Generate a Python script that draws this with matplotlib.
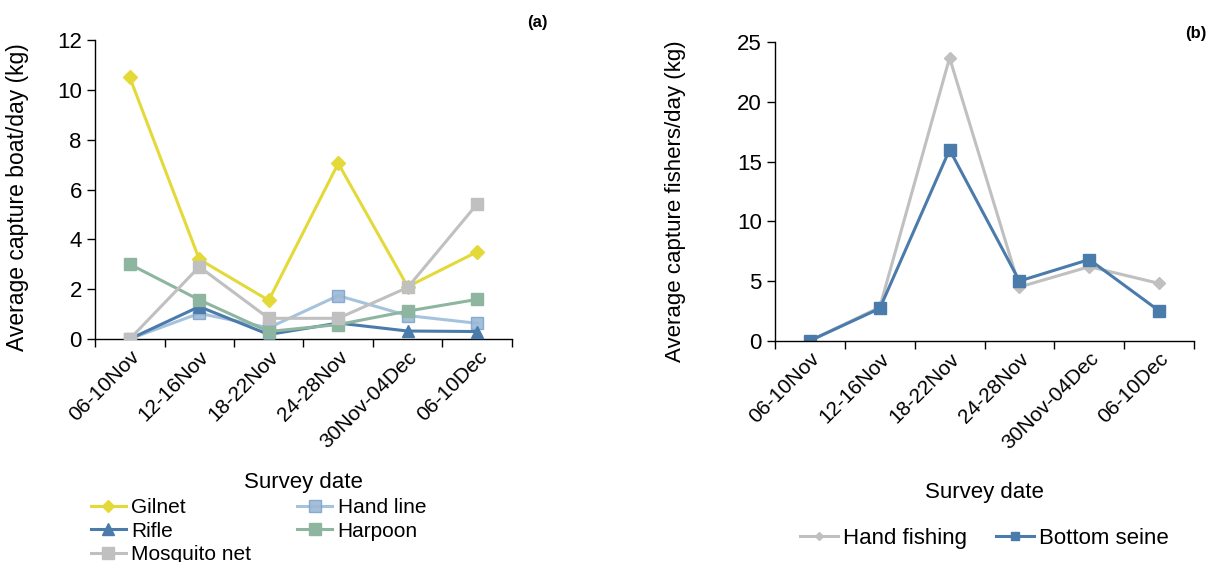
import matplotlib
matplotlib.use("Agg")
import matplotlib.pyplot as plt
from matplotlib.ticker import FixedLocator, NullFormatter

plt.rcParams['font.family'] = ['Liberation Sans', 'DejaVu Sans']

dates = ['06-10Nov', '12-16Nov', '18-22Nov', '24-28Nov', '30Nov-04Dec', '06-10Dec']

# panel (a): average capture per boat per day (kg)
gilnet = [10.5, 3.2, 1.55, 7.05, 2.1, 3.5]
hand_line = [0.0, 1.03, 0.45, 1.74, 0.94, 0.63]
rifle = [0.0, 1.3, 0.18, 0.64, 0.32, 0.3]
harpoon = [3.0, 1.57, 0.3, 0.58, 1.12, 1.59]
mosquito_net = [0.0, 2.9, 0.83, 0.83, 2.07, 5.42]

# panel (b): average capture per fisher per day (kg)
hand_fishing = [0.0, 2.8, 23.7, 4.5, 6.2, 4.8]
bottom_seine = [0.0, 2.7, 16.0, 5.0, 6.8, 2.5]

fig = plt.figure(figsize=(12.23, 5.62), dpi=100)
ax1 = fig.add_axes([0.0777, 0.3968, 0.3409, 0.532])
ax2 = fig.add_axes([0.6337, 0.3938, 0.3426, 0.5309])

x = list(range(len(dates)))


def style_axis(ax, label_y):
    for s in ['top', 'right']:
        ax.spines[s].set_visible(False)
    for s in ['left', 'bottom']:
        ax.spines[s].set_linewidth(1.0)
        ax.spines[s].set_color('black')
    ax.set_xlim(-0.5, len(dates) - 0.5)
    ax.set_xticks(x)
    ax.set_xticklabels(dates, rotation=45, ha='right', rotation_mode='anchor', fontsize=15)
    ax.tick_params(axis='x', which='major', length=0, pad=6)
    ax.xaxis.set_minor_locator(FixedLocator([i - 0.5 for i in range(len(dates) + 1)]))
    ax.xaxis.set_minor_formatter(NullFormatter())
    ax.tick_params(axis='x', which='minor', length=6, width=1, direction='out')
    ax.tick_params(axis='y', length=6, width=1, direction='out', labelsize=16)
    ax.set_xlabel('Survey date', fontsize=16)
    ax.xaxis.set_label_coords(0.5, label_y)


# (a)
l_gil, = ax1.plot(x, gilnet, color='#E3DA3A', lw=2.2, marker='D', ms=7, label='Gilnet', zorder=6)
l_hl, = ax1.plot(x, hand_line, color='#9DBDDA', lw=2.2, marker='s', ms=9,
                 mfc='#9BB8D6', mec='#7FA6CC', alpha=0.9, label='Hand line', zorder=3)
l_rif, = ax1.plot(x, rifle, color='#4A7BAB', lw=2.2, marker='^', ms=9, label='Rifle', zorder=4)
l_harp, = ax1.plot(x, harpoon, color='#8DB5A0', lw=2.2, marker='s', ms=9, label='Harpoon', zorder=5)
l_mos, = ax1.plot(x, mosquito_net, color='#C0C0C0', lw=2.2, marker='s', ms=9,
                  label='Mosquito net', zorder=6)
style_axis(ax1, -0.445)
ax1.set_ylim(0, 12)
ax1.set_yticks(range(0, 13, 2))
ax1.set_ylabel('Average capture boat/day (kg)', fontsize=16.5)
ax1.yaxis.set_label_coords(-0.158, 0.475)
ax1.text(1.06, 1.06, '(a)', transform=ax1.transAxes, fontsize=12, fontweight='bold',
         ha='center', va='center')
# column-major order so rows read Gilnet/Hand line, Rifle/Harpoon, Mosquito net
handles = [l_gil, l_rif, l_mos, l_hl, l_harp]
fig.legend(handles, [h.get_label() for h in handles], loc='upper left',
           bbox_to_anchor=(0.074, 0.114), ncol=2, frameon=False,
           fontsize=15, handlelength=1.7, handletextpad=0.25, labelspacing=0.22,
           columnspacing=2.2, borderaxespad=0, borderpad=0, markerscale=0.9)

# (b)
ax2.plot(x, hand_fishing, color='#C0C0C0', lw=2.2, marker='D', ms=6, label='Hand fishing')
ax2.plot(x, bottom_seine, color='#4A7BAB', lw=2.2, marker='s', ms=9, label='Bottom seine')
style_axis(ax2, -0.475)
ax2.set_ylim(0, 25)
ax2.set_yticks(range(0, 26, 5))
ax2.set_ylabel('Average capture fishers/day (kg)', fontsize=16)
ax2.yaxis.set_label_coords(-0.212, 0.468)
ax2.text(1.005, 1.03, '(b)', transform=ax2.transAxes, fontsize=12, fontweight='bold',
         ha='center', va='center')
ax2.legend(loc='upper left', bbox_to_anchor=(0.654, 0.0605), bbox_transform=fig.transFigure,
           ncol=2, frameon=False, fontsize=16, handlelength=1.7, handletextpad=0.25,
           columnspacing=1.3, borderaxespad=0, borderpad=0, markerscale=0.7)

fig.savefig('out.png', dpi=100)
